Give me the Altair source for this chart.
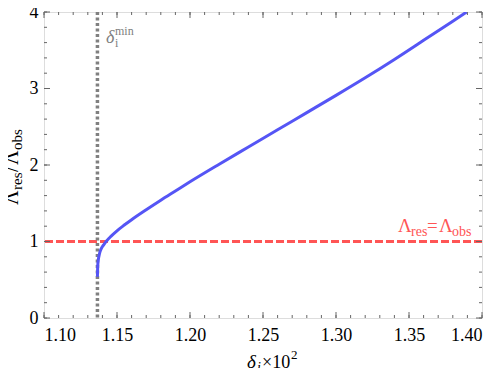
import altair as alt
import pandas as pd

# ---- data ----
delta_i = [1.1366, 1.1368, 1.1372, 1.1380, 1.1393, 1.1410, 1.1430, 1.1460,
           1.150, 1.155, 1.160, 1.170, 1.180, 1.190, 1.200, 1.220, 1.240,
           1.260, 1.280, 1.300, 1.320, 1.340, 1.360, 1.380, 1.3895]
lam_ratio = [0.54, 0.68, 0.76, 0.84, 0.91, 0.96, 1.01, 1.07,
             1.14, 1.215, 1.285, 1.415, 1.54, 1.66, 1.78, 2.01, 2.235,
             2.46, 2.685, 2.91, 3.14, 3.38, 3.63, 3.88, 4.0]
delta_min = [1.1366]
lam_equal = [1.0]

x_major = [1.10, 1.15, 1.20, 1.25, 1.30, 1.35, 1.40]
x_minor = [round(1.10 + 0.01 * k, 2) for k in range(31)]
y_major = [0, 1, 2, 3, 4]
y_minor = [round(0.2 * k, 1) for k in range(21)]

W, H = 438, 306
SERIF = "Liberation Serif"
BLUE = "#5555F5"
RED = "#FF5555"
GRAY = "#808080"
FRAME = "#666666"

xscale = alt.Scale(domain=[1.10, 1.40], nice=False, zero=False)
yscale = alt.Scale(domain=[0, 4], nice=False, zero=False)
xaxis = alt.Axis(values=x_major, format=".2f", ticks=False, domain=False, grid=False,
                 labelFont=SERIF, labelFontSize=18, labelColor="black", labelPadding=8,
                 title=None)
yaxis = alt.Axis(values=y_major, format="d", ticks=False, domain=False, grid=False,
                 labelFont=SERIF, labelFontSize=18, labelColor="black", labelPadding=6,
                 title=None)


def X(f):
    return alt.X(f, type="quantitative", scale=xscale, axis=xaxis)


def Y(f):
    return alt.Y(f, type="quantitative", scale=yscale, axis=yaxis)


curve = pd.DataFrame({"d": delta_i, "r": lam_ratio})
line = alt.Chart(curve).mark_line(color=BLUE, strokeWidth=3, interpolate="monotone",
                                  clip=True).encode(x=X("d"), y=Y("r"))

hrule = alt.Chart(pd.DataFrame({"v": lam_equal})).mark_rule(
    color=RED, strokeWidth=3, strokeDash=[8, 3]).encode(y=Y("v"))
vrule = alt.Chart(pd.DataFrame({"v": delta_min})).mark_rule(
    color=GRAY, strokeWidth=3.5, strokeDash=[3, 2.5]).encode(x=X("v"))

tick_layers = []
for vals, ln in ((x_minor, 3), (x_major, 6)):
    df = pd.DataFrame({"v": vals})
    tick_layers.append(alt.Chart(df).mark_rule(color=FRAME, strokeWidth=1).encode(
        x=X("v"), y=alt.value(H), y2=alt.value(H - ln)))
    tick_layers.append(alt.Chart(df).mark_rule(color=FRAME, strokeWidth=1).encode(
        x=X("v"), y=alt.value(0), y2=alt.value(ln)))
for vals, ln in ((y_minor, 3), (y_major, 6)):
    df = pd.DataFrame({"v": vals})
    tick_layers.append(alt.Chart(df).mark_rule(color=FRAME, strokeWidth=1).encode(
        y=Y("v"), x=alt.value(0), x2=alt.value(ln)))
    tick_layers.append(alt.Chart(df).mark_rule(color=FRAME, strokeWidth=1).encode(
        y=Y("v"), x=alt.value(W), x2=alt.value(W - ln)))

one = pd.DataFrame({"a": [0]})


def txt(s, x, y, size, color="black", italic=False, angle=0):
    kw = dict(text=s, align="left", baseline="alphabetic", font=SERIF,
              fontSize=size, color=color)
    if italic:
        kw["fontStyle"] = "italic"
    if angle:
        kw["angle"] = angle
    return alt.Chart(one).mark_text(**kw).encode(x=alt.value(x), y=alt.value(y))


texts = [
    # y-axis title (rotated)
    txt("Λ", -26.5, 193, 20, angle=270),
    txt("res", -22.5, 178, 15, angle=270),
    txt("/", -26.5, 160, 20, angle=270),
    txt("Λ", -26.5, 153, 20, angle=270),
    txt("obs", -22.5, 138, 15, angle=270),
    # x-axis title
    txt("δ", 203, 356, 19, italic=True),
    txt("i", 213, 360, 14, italic=True),
    txt("×10", 218, 356, 18),
    txt("2", 247, 347, 13),
    # delta_i^min label
    txt("δ", 62, 31, 18, color=GRAY, italic=True),
    txt("min", 71, 23, 12, color=GRAY),
    txt("i", 71, 35, 12, color=GRAY),
    # Lambda_res = Lambda_obs label
    txt("Λ", 354, 220, 19, color=RED),
    txt("res", 367, 224, 14, color=RED),
    txt("=", 383, 220, 19, color=RED),
    txt("Λ", 395, 220, 19, color=RED),
    txt("obs", 408, 224, 14, color=RED),
]

chart = alt.layer(hrule, vrule, line, *tick_layers, *texts).properties(
    width=W, height=H,
    autosize=alt.AutoSizeParams(type="none"),
    padding={"left": 36, "top": 4, "right": 10, "bottom": 50},
).configure_view(stroke=FRAME, strokeWidth=1).configure(background="white", font=SERIF)

chart.save("out.html", embed_options={"renderer": "svg", "actions": False})
